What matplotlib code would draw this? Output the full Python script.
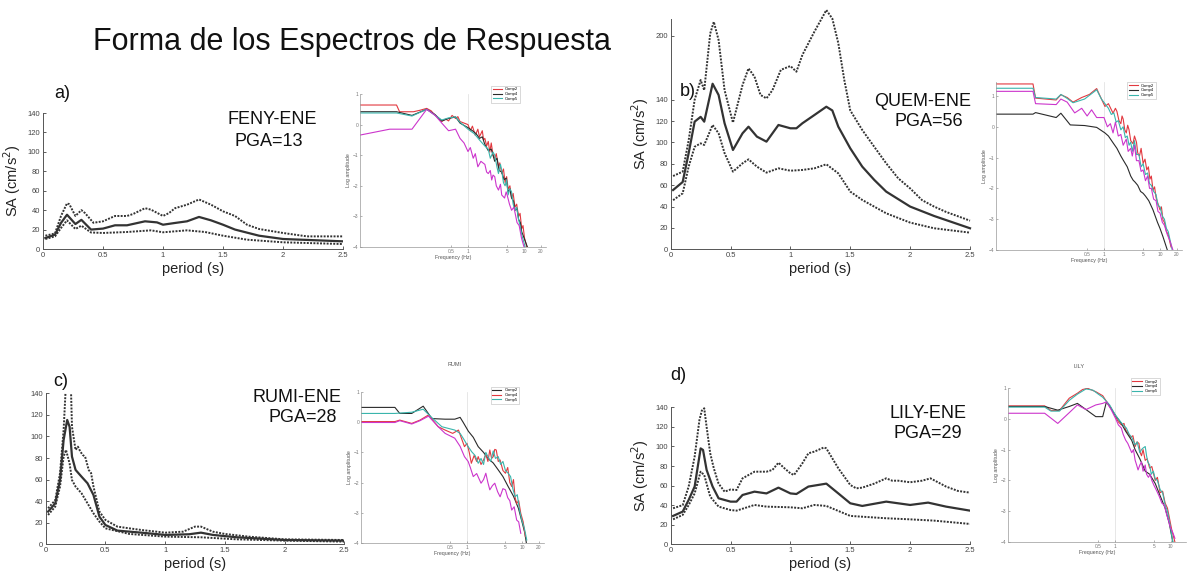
import matplotlib
matplotlib.use("Agg")
import matplotlib.pyplot as plt

plt.rcParams["font.family"] = ["Liberation Sans", "DejaVu Sans"]

W, H = 1187, 571

# ---- response spectra, period (s) vs SA (cm/s^2): mean+std (hi), mean, mean-std (lo)
a_hi_t = [0.02, 0.1, 0.15, 0.2, 0.22, 0.27, 0.32, 0.35, 0.42, 0.5, 0.6, 0.7, 0.75, 0.85, 0.9, 1.0, 1.05, 1.1, 1.2, 1.3, 1.4, 1.5, 1.6, 1.7, 1.8, 2.0, 2.2, 2.5]
a_hi_sa = [13.7, 16, 34, 47, 46, 34, 40, 37, 27, 28.5, 34, 34, 36, 42, 40.5, 34, 37, 42, 45.6, 51, 45.6, 38.8, 34, 25, 20.6, 16.5, 13, 13]
a_mn_t = [0.02, 0.1, 0.15, 0.2, 0.27, 0.32, 0.4, 0.5, 0.6, 0.7, 0.85, 0.95, 1.0, 1.1, 1.2, 1.3, 1.4, 1.5, 1.6, 1.8, 2.0, 2.5]
a_mn_sa = [11.3, 14.8, 26.8, 35.3, 25.7, 30, 20, 21, 24.4, 24.4, 28.5, 27.4, 25, 26.8, 28.5, 33, 29.5, 25, 20, 13.7, 10.3, 7.9]
a_lo_t = [0.02, 0.1, 0.15, 0.2, 0.27, 0.32, 0.4, 0.5, 0.7, 0.9, 1.0, 1.2, 1.35, 1.5, 1.7, 2.0, 2.5]
a_lo_sa = [10.3, 13, 21.6, 29.5, 20.6, 24, 17, 16.5, 17.5, 19.2, 17.2, 19.2, 17.5, 13.7, 9.6, 6.9, 5.1]

b_hi_t = [0.02, 0.1, 0.15, 0.2, 0.25, 0.28, 0.33, 0.36, 0.4, 0.45, 0.52, 0.6, 0.65, 0.7, 0.75, 0.8, 0.85, 0.92, 1.0, 1.05, 1.1, 1.2, 1.3, 1.35, 1.4, 1.45, 1.5, 1.6, 1.7, 1.8, 1.9, 2.0, 2.1, 2.2, 2.3, 2.5]
b_hi_sa = [68.6, 72.7, 102, 140, 158.5, 149, 202, 213, 196, 149, 118.6, 153.8, 169.4, 161.6, 144.5, 141.3, 149, 168, 171.6, 166.3, 182, 203.7, 224, 216, 193, 158.5, 130, 111.7, 96, 80.5, 66.5, 57, 46, 40, 35, 26.8]
b_mn_t = [0.02, 0.1, 0.15, 0.2, 0.25, 0.28, 0.35, 0.4, 0.45, 0.52, 0.6, 0.65, 0.72, 0.8, 0.9, 1.0, 1.05, 1.1, 1.2, 1.3, 1.35, 1.4, 1.5, 1.6, 1.7, 1.8, 2.0, 2.2, 2.5]
b_mn_sa = [55.5, 63, 90, 119.5, 124, 119.5, 155, 144.5, 118, 93, 108.6, 114.8, 105.5, 100.8, 116.4, 113.3, 113.3, 118, 125.7, 133.5, 130, 114.8, 94.5, 77.4, 65, 54, 40, 31.2, 19.7]
b_lo_t = [0.02, 0.1, 0.15, 0.2, 0.25, 0.28, 0.35, 0.4, 0.45, 0.52, 0.6, 0.65, 0.72, 0.8, 0.9, 1.0, 1.1, 1.2, 1.3, 1.4, 1.5, 1.6, 1.8, 2.0, 2.2, 2.5]
b_lo_sa = [46, 52.4, 77.4, 96, 99.2, 97.7, 116.4, 108.6, 90, 72.7, 80.5, 84.2, 77.4, 71.8, 75.8, 73.6, 74.3, 75.8, 79.6, 71.1, 54, 46.2, 33.7, 25, 19.7, 15.6]

c_hi_t = [0.02, 0.08, 0.12, 0.15, 0.17, 0.19, 0.21, 0.22, 0.25, 0.27, 0.29, 0.31, 0.33, 0.36, 0.38, 0.4, 0.45, 0.5, 0.6, 0.7, 0.8, 1.0, 1.15, 1.25, 1.3, 1.4, 1.5, 1.7, 2.0, 2.5]
c_hi_sa = [33.4, 41, 66, 106, 150, 175, 150, 109, 87.5, 90.5, 86, 82.8, 81.3, 69, 66, 53.5, 30.3, 22.6, 16.4, 14.8, 13.3, 10.8, 11.7, 16.4, 16.4, 11.7, 9.6, 7.1, 4.6, 4]
c_mn_t = [0.02, 0.08, 0.12, 0.15, 0.18, 0.2, 0.22, 0.25, 0.3, 0.35, 0.4, 0.45, 0.5, 0.6, 0.8, 1.0, 1.2, 1.3, 1.4, 1.6, 2.0, 2.5]
c_mn_sa = [30.3, 38, 59.6, 96.7, 115.3, 109, 81.3, 69, 62.7, 56.6, 45.7, 25.6, 17.9, 12.7, 10.8, 8.7, 9.3, 10.8, 8.7, 6.5, 4, 3.4]
c_lo_t = [0.02, 0.08, 0.12, 0.15, 0.17, 0.2, 0.22, 0.25, 0.3, 0.35, 0.4, 0.45, 0.5, 0.7, 1.0, 1.3, 1.6, 2.0, 2.5]
c_lo_sa = [27.2, 35, 53.5, 81.3, 87.5, 75, 59.6, 53.5, 47.3, 38, 28.7, 21, 14.8, 9.6, 7.1, 6.5, 4.6, 3.4, 2.5]

d_hi_t = [0.02, 0.1, 0.15, 0.2, 0.24, 0.26, 0.28, 0.3, 0.33, 0.36, 0.4, 0.45, 0.5, 0.55, 0.6, 0.7, 0.8, 0.85, 0.9, 0.95, 1.0, 1.03, 1.1, 1.15, 1.2, 1.28, 1.3, 1.4, 1.5, 1.55, 1.6, 1.7, 1.8, 1.85, 1.9, 2.0, 2.1, 2.17, 2.3, 2.4, 2.5]
d_hi_sa = [36.8, 40, 59, 89.6, 127, 136.6, 139, 120, 93, 77.7, 62, 53.8, 56, 55.5, 67.4, 74.2, 74.2, 76, 83.4, 77.7, 72.5, 70.8, 82.8, 93, 94.7, 99, 98, 77.7, 60.6, 57.2, 57.9, 62, 67.4, 65, 65, 63.4, 65, 67.4, 59, 54.5, 52.8]
d_mn_t = [0.02, 0.1, 0.15, 0.2, 0.25, 0.27, 0.3, 0.35, 0.4, 0.5, 0.55, 0.6, 0.7, 0.8, 0.9, 1.0, 1.05, 1.15, 1.3, 1.4, 1.5, 1.6, 1.8, 2.0, 2.15, 2.3, 2.5]
d_mn_sa = [29, 33.4, 45.3, 59, 98, 96.4, 76, 59, 47, 43.6, 43.6, 50.4, 53.8, 52, 57.9, 52, 51.4, 59, 62, 52, 41.9, 39.2, 43.6, 40.2, 42.6, 38.5, 34.4]
d_lo_t = [0.02, 0.1, 0.15, 0.2, 0.25, 0.28, 0.33, 0.4, 0.5, 0.55, 0.7, 0.8, 1.0, 1.1, 1.2, 1.3, 1.5, 1.8, 2.0, 2.2, 2.5]
d_lo_sa = [25.5, 30, 40, 52, 74.2, 70.8, 48.7, 38.5, 35, 34.4, 40.2, 38.5, 37.8, 36.8, 40.2, 39.2, 29, 26.6, 25.5, 24.2, 20.8]

# ---- Fourier spectra insets: frequency (Hz) vs log10 amplitude
ia_red_f = [0.012, 0.053, 0.06, 0.106, 0.14, 0.183, 0.22, 0.257, 0.3, 0.34, 0.4, 0.45, 0.52, 0.6, 0.66, 0.72, 0.85, 1.0, 1.1, 1.2, 1.35, 1.5, 1.6, 1.7, 1.8, 1.9, 2.0, 2.15, 2.3, 2.45, 2.6, 2.8, 3.0, 3.2, 3.5, 3.7, 4.0, 4.3, 4.6, 4.9, 5.2, 5.6, 6.0, 6.4, 6.9, 7.4, 8.0, 8.5, 9.1, 9.6, 10.2, 11.2]
ia_red_k = [0.64, 0.64, 0.42, 0.42, 0.47, 0.53, 0.45, 0.31, 0.2, 0.1, 0.18, 0.12, 0.3, 0.2, 0.26, 0.1, 0.05, 0.0, -0.2, -0.05, -0.35, -0.15, -0.4, -0.3, -0.2, -0.5, -0.45, -0.7, -0.55, -0.9, -0.6, -1.0, -1.1, -0.95, -1.4, -1.25, -1.6, -1.45, -1.9, -1.7, -2.1, -2.0, -2.4, -2.25, -2.7, -2.6, -3.0, -2.9, -3.4, -3.3, -3.7, -4.0]
ia_blk_f = [0.012, 0.053, 0.1, 0.183, 0.257, 0.34, 0.45, 0.6, 0.72, 1.0, 1.2, 1.4, 1.6, 1.8, 2.0, 2.3, 2.6, 3.0, 3.3, 3.6, 4.0, 4.4, 4.8, 5.2, 5.6, 6.0, 6.5, 6.9, 7.5, 8.0, 8.6, 9.1, 10, 11.5]
ia_blk_k = [0.42, 0.42, 0.3, 0.5, 0.33, 0.12, 0.2, 0.25, 0.05, -0.1, -0.2, -0.3, -0.45, -0.4, -0.65, -0.85, -0.8, -1.2, -1.1, -1.5, -1.55, -1.8, -1.75, -2.2, -2.1, -2.4, -2.5, -2.8, -2.75, -3.1, -3.2, -3.5, -3.7, -4.0]
ia_tea_f = [0.012, 0.053, 0.1, 0.183, 0.26, 0.34, 0.45, 0.6, 0.72, 1.0, 1.3, 1.6, 2.0, 2.3, 2.5, 2.8, 3.0, 3.3, 3.5, 3.8, 4.0, 4.3, 4.6, 4.9, 5.2, 5.6, 6.0, 6.4, 6.9, 7.4, 8.0, 8.5, 9.1, 10.5]
ia_tea_k = [0.38, 0.38, 0.28, 0.5, 0.3, 0.15, 0.22, 0.25, 0.08, -0.15, -0.3, -0.5, -0.7, -0.8, -1.1, -0.9, -1.0, -1.4, -1.6, -1.3, -1.5, -1.9, -2.0, -1.8, -2.3, -2.1, -2.2, -2.6, -2.8, -2.7, -3.1, -3.3, -3.6, -4.0]
ia_mag_f = [0.012, 0.04, 0.1, 0.183, 0.26, 0.34, 0.45, 0.6, 0.72, 0.85, 1.0, 1.1, 1.24, 1.35, 1.5, 1.7, 2.0, 2.15, 2.3, 2.5, 2.65, 2.8, 3.0, 3.2, 3.5, 3.8, 4.0, 4.5, 4.8, 5.0, 5.5, 6.0, 6.6, 7.5, 8.2, 9.0, 10.0]
ia_mag_k = [-0.34, -0.15, -0.15, 0.5, 0.3, 0.05, -0.2, -0.15, -0.45, -0.6, -0.88, -0.75, -1.1, -0.95, -1.38, -1.2, -1.3, -1.55, -1.6, -1.5, -1.81, -1.65, -1.7, -2.0, -2.14, -1.95, -2.3, -2.4, -2.2, -2.3, -2.6, -2.8, -2.7, -3.2, -3.3, -3.7, -4.0]

ib_red_f = [0.012, 0.054, 0.06, 0.14, 0.17, 0.22, 0.28, 0.4, 0.55, 0.74, 0.85, 1.04, 1.2, 1.45, 1.6, 1.7, 1.85, 2.0, 2.1, 2.2, 2.35, 2.5, 2.65, 2.8, 3.0, 3.3, 3.5, 3.8, 4.0, 4.3, 4.6, 5.0, 5.4, 5.8, 6.2, 6.6, 7.0, 7.5, 8.0, 8.5, 9.2, 10, 10.6, 11.3, 12, 13, 14, 15.7]
ib_red_k = [1.39, 1.39, 0.93, 0.87, 1.04, 0.95, 0.8, 0.95, 1.05, 1.24, 1.0, 0.66, 0.75, 0.44, 0.6, 0.5, 0.2, 0.1, 0.35, 0.25, -0.1, -0.2, 0.05, -0.1, -0.45, -0.55, -0.3, -0.5, -0.85, -0.95, -0.7, -1.19, -1.05, -1.4, -1.3, -1.7, -1.6, -2.06, -1.95, -2.3, -2.5, -2.7, -2.6, -3.03, -3.1, -3.4, -3.5, -3.9]
ib_blk_f = [0.012, 0.054, 0.06, 0.14, 0.17, 0.25, 0.45, 0.74, 1.04, 1.2, 1.45, 1.7, 2.0, 2.2, 2.6, 3.0, 3.3, 3.6, 4.0, 4.5, 5.0, 5.5, 6.3, 7.5, 9.0, 10, 11.3, 13.5]
ib_blk_k = [0.41, 0.41, 0.46, 0.3, 0.44, 0.06, 0.04, -0.02, -0.2, -0.3, -0.52, -0.7, -0.95, -1.08, -1.3, -1.6, -1.73, -1.8, -1.9, -2.1, -2.16, -2.25, -2.4, -2.7, -3.1, -3.3, -3.57, -4.0]
ib_tea_f = [0.012, 0.054, 0.06, 0.14, 0.17, 0.22, 0.28, 0.45, 0.74, 0.9, 1.2, 1.35, 1.5, 1.65, 1.8, 2.0, 2.2, 2.4, 2.6, 2.8, 3.0, 3.2, 3.5, 3.8, 4.2, 4.6, 5.0, 5.5, 6.0, 6.5, 7.0, 7.7, 8.5, 9.2, 10, 11, 12, 13, 14, 16.5]
ib_tea_k = [1.25, 1.25, 0.95, 0.9, 1.05, 0.92, 0.78, 0.9, 1.2, 0.9, 0.6, 0.4, 0.45, 0.15, 0.2, -0.1, 0.0, -0.35, -0.3, -0.6, -0.5, -0.8, -0.45, -0.9, -0.9, -1.3, -1.2, -1.55, -1.5, -1.85, -1.9, -2.1, -2.2, -2.55, -2.6, -2.9, -3.0, -3.3, -3.4, -4.0]
ib_mag_f = [0.012, 0.054, 0.06, 0.14, 0.17, 0.22, 0.3, 0.4, 0.5, 0.6, 0.74, 1.0, 1.15, 1.3, 1.45, 1.6, 1.8, 2.0, 2.2, 2.5, 2.7, 3.0, 3.2, 3.5, 3.8, 4.2, 4.6, 5.0, 5.5, 6.0, 6.5, 7.0, 7.7, 8.5, 9.2, 10, 11, 12, 13.5, 15, 17]
ib_mag_k = [1.15, 1.15, 0.75, 0.72, 0.9, 0.8, 0.45, 0.6, 0.35, 0.55, 0.3, 0.3, 0.0, 0.1, -0.2, 0.15, -0.3, -0.25, -0.6, -0.4, -0.8, -0.7, -0.95, -0.6, -1.1, -1.1, -1.45, -1.4, -1.75, -1.6, -2.0, -2.0, -2.35, -2.4, -2.75, -2.8, -3.1, -3.2, -3.5, -3.7, -4.0]

ic_blk_f = [0.012, 0.049, 0.06, 0.099, 0.16, 0.23, 0.4, 0.6, 0.75, 0.85, 1.06, 1.3, 1.6, 2.0, 2.4, 3.0, 3.7, 4.5, 5.6, 7.0, 8.6, 10, 11.3, 12]
ic_blk_k = [0.49, 0.49, 0.29, 0.29, 0.53, 0.12, 0.1, 0.1, 0.16, 0.0, -0.3, -0.5, -0.81, -1.0, -1.2, -1.35, -1.58, -1.8, -2.13, -2.45, -2.85, -3.3, -3.68, -4.0]
ic_red_f = [0.012, 0.049, 0.06, 0.099, 0.14, 0.2, 0.3, 0.4, 0.55, 0.7, 0.8, 0.9, 1.0, 1.1, 1.2, 1.35, 1.5, 1.6, 1.8, 2.0, 2.2, 2.4, 2.6, 2.8, 3.0, 3.2, 3.4, 3.7, 4.0, 4.5, 5.0, 5.5, 6.0, 6.5, 7.0, 7.5, 8.0, 8.7, 9.5, 10.5, 11.5]
ic_red_k = [0.02, 0.02, 0.07, -0.04, 0.07, 0.24, -0.15, -0.26, -0.37, -0.26, -0.55, -0.81, -0.7, -1.0, -1.36, -1.1, -1.3, -1.14, -1.4, -1.25, -1.05, -1.3, -0.92, -1.2, -1.14, -0.9, -0.92, -1.3, -1.25, -1.6, -1.69, -1.5, -2.0, -2.13, -1.9, -2.5, -2.69, -2.6, -3.02, -3.3, -3.79]
ic_tea_f = [0.012, 0.049, 0.099, 0.16, 0.23, 0.35, 0.6, 0.75, 0.9, 1.0, 1.22, 1.4, 1.6, 1.8, 2.0, 2.2, 2.4, 2.7, 3.0, 3.3, 3.7, 4.1, 4.5, 5.0, 5.6, 6.2, 6.8, 7.5, 8.2, 9.0, 9.9, 11, 12.2]
ic_tea_k = [0.29, 0.29, 0.33, 0.43, 0.15, -0.15, -0.26, -0.37, -0.6, -0.75, -0.98, -1.1, -1.36, -1.2, -1.4, -1.0, -1.14, -1.3, -0.95, -1.2, -1.14, -1.4, -1.3, -1.6, -1.69, -1.8, -2.2, -2.47, -2.4, -2.9, -3.24, -3.5, -3.9]
ic_mag_f = [0.012, 0.049, 0.06, 0.099, 0.14, 0.2, 0.3, 0.4, 0.6, 0.75, 0.9, 1.05, 1.15, 1.3, 1.5, 1.8, 2.0, 2.2, 2.4, 2.6, 2.9, 3.2, 3.6, 4.0, 4.5, 5.0, 5.5, 6.0, 6.5, 7.2, 8.0, 8.7, 9.5]
ic_mag_k = [-0.01, -0.01, 0.05, -0.06, 0.05, 0.2, -0.15, -0.37, -0.53, -0.8, -1.14, -1.3, -1.5, -1.8, -1.7, -2.02, -1.9, -1.69, -2.0, -2.24, -2.1, -2.02, -2.3, -2.47, -2.2, -2.24, -2.5, -2.6, -2.91, -2.8, -3.24, -3.3, -3.68]

id_red_f = [0.012, 0.054, 0.07, 0.1, 0.15, 0.21, 0.26, 0.32, 0.45, 0.6, 0.68, 0.85, 1.03, 1.15, 1.3, 1.45, 1.55, 1.7, 1.9, 2.1, 2.3, 2.5, 2.7, 2.85, 3.0, 3.2, 3.5, 3.8, 4.2, 4.6, 5.3, 5.8, 6.5, 7.2, 8.0, 8.8, 9.5, 10.5, 12]
id_red_k = [0.42, 0.42, 0.27, 0.27, 0.67, 0.83, 0.95, 0.99, 0.88, 0.75, 0.6, 0.35, 0.05, -0.1, -0.2, -0.15, -0.36, -0.45, -0.6, -0.55, -0.9, -0.75, -0.8, -1.1, -1.2, -1.0, -1.35, -1.3, -1.6, -1.55, -2.0, -1.9, -2.4, -2.35, -2.74, -2.9, -3.2, -3.6, -4.0]
id_blk_f = [0.012, 0.054, 0.093, 0.15, 0.21, 0.3, 0.45, 0.6, 0.7, 0.8, 1.03, 1.3, 1.55, 2.0, 2.3, 2.8, 3.5, 4.2, 5.3, 6.5, 8.0, 9.5, 11]
id_blk_k = [0.4, 0.4, 0.28, 0.4, 0.5, 0.3, 0.07, 0.07, 0.55, 0.4, 0.1, -0.15, -0.4, -0.7, -1.0, -1.3, -1.7, -1.8, -2.1, -2.5, -2.9, -3.4, -4.0]
id_tea_f = [0.012, 0.054, 0.07, 0.1, 0.15, 0.21, 0.3, 0.4, 0.5, 0.6, 0.8, 1.03, 1.2, 1.4, 1.6, 1.8, 2.0, 2.3, 2.5, 2.8, 3.0, 3.2, 3.5, 3.7, 3.9, 4.2, 4.5, 4.9, 5.3, 5.8, 6.5, 7.2, 8, 8.8, 9.5, 11]
id_tea_k = [0.38, 0.38, 0.25, 0.25, 0.6, 0.8, 0.97, 0.93, 0.8, 0.7, 0.45, 0.1, -0.05, -0.2, -0.3, -0.5, -0.6, -0.85, -0.75, -1.1, -1.0, -0.95, -0.9, -1.2, -1.4, -1.5, -1.8, -1.7, -1.95, -2.0, -2.3, -2.4, -2.8, -3.0, -3.3, -4.0]
id_mag_f = [0.012, 0.054, 0.093, 0.15, 0.21, 0.3, 0.45, 0.6, 0.7, 0.85, 1.03, 1.15, 1.3, 1.4, 1.55, 1.7, 2.0, 2.15, 2.3, 2.45, 2.6, 2.8, 3.0, 3.2, 3.5, 3.7, 4.0, 4.3, 4.6, 5.0, 5.5, 6.2, 7.0, 7.7, 8.5, 9.2, 9.8, 11, 12]
id_mag_k = [0.18, 0.18, -0.15, 0.2, 0.45, 0.3, 0.45, 0.5, 0.55, 0.3, 0.0, -0.2, -0.3, -0.5, -0.69, -0.8, -1.1, -1.0, -1.34, -1.5, -1.66, -1.5, -1.4, -1.7, -1.5, -1.8, -1.9, -1.8, -2.0, -2.15, -2.3, -2.5, -2.74, -2.8, -3.1, -3.3, -3.5, -3.7, -3.88]

comp_labels = ["Comp2", "Comp4", "Comp5"]
RED, BLK, TEAL, MAG = "#e2383f", "#2a2a2a", "#3ab5ac", "#cc35cc"
INK = "#333333"


def px_axes(fig, left, top, right, bottom):
    return fig.add_axes([left / W, 1 - bottom / H, (right - left) / W, (bottom - top) / H])


def ftext(fig, x, y, s, **kw):
    fig.text(x / W, 1 - y / H, s, ha="center", va="center", **kw)


def spectrum(ax, hi, mean, lo, ylim, yticks, ylabel=True, clip=True):
    ax.plot(*hi, color=INK, lw=1.4, ls=(0, (1, 0.7)), clip_on=clip)
    ax.plot(*mean, color=INK, lw=1.6, clip_on=clip)
    ax.plot(*lo, color=INK, lw=1.4, ls=(0, (1, 0.7)), clip_on=clip)
    ax.set_xlim(0, 2.5)
    ax.set_ylim(*ylim)
    ax.set_xticks([0, 0.5, 1, 1.5, 2, 2.5], ["0", "0.5", "1", "1.5", "2", "2.5"])
    ax.set_yticks(yticks)
    for s in ("top", "right"):
        ax.spines[s].set_visible(False)
    for s in ("left", "bottom"):
        ax.spines[s].set_color("#555555")
        ax.spines[s].set_linewidth(0.7)
    ax.tick_params(direction="in", length=2, width=0.6, labelsize=5.5, colors="#444444", pad=2)
    ax.set_xlabel("period (s)", fontsize=10.5, color="#222222", labelpad=2)
    if ylabel:
        ax.set_ylabel("SA (cm/s$^2$)", fontsize=10.5, color="#222222", labelpad=3)


def inset(ax, lines, xmax, ylim, leg_xy, xt, title=None, title_xy=None):
    hs = []
    for f, k, c in lines:
        hs += ax.plot(f, k, color=c, lw=0.8)
    ax.axvline(1, color="#dddddd", lw=0.5, zorder=0)
    ax.set_xscale("log")
    ax.set_xlim(0.012, xmax)
    ax.set_ylim(*ylim)
    ax.set_xticks(xt, [f"{v:g}" for v in xt])
    ax.set_xticks([], minor=True)
    ax.set_yticks([-4, -3, -2, -1, 0, 1])
    for s in ("top", "right"):
        ax.spines[s].set_visible(False)
    for s in ("left", "bottom"):
        ax.spines[s].set_color("#999999")
        ax.spines[s].set_linewidth(0.5)
    ax.tick_params(direction="in", length=1.5, width=0.4, labelsize=3.5, colors="#777777", pad=1.5)
    ax.set_xlabel("Frequency (Hz)", fontsize=3.8, color="#555555", labelpad=1)
    ax.set_ylabel("Log amplitude", fontsize=3.8, color="#555555", labelpad=1)
    leg = ax.legend(hs[:3], comp_labels, loc="center", bbox_to_anchor=leg_xy, fontsize=3,
                    handlelength=2.2, borderpad=0.4, labelspacing=0.2, frameon=True, fancybox=False)
    leg.get_frame().set_linewidth(0.4)
    leg.get_frame().set_edgecolor("#aaaaaa")
    if title:
        ax.text(*title_xy, title, transform=ax.transAxes, fontsize=4, color="#555555", ha="center")


fig = plt.figure(figsize=(W / 100, H / 100), dpi=100)

yt140 = [0, 20, 40, 60, 80, 100, 120, 140]
xt_full = [0.5, 1, 5, 10, 20]

ax = px_axes(fig, 43, 113, 343, 249)
spectrum(ax, (a_hi_t, a_hi_sa), (a_mn_t, a_mn_sa), (a_lo_t, a_lo_sa), (0, 140), yt140)
ax = px_axes(fig, 670.7, 18.6, 970, 249.3)
spectrum(ax, (b_hi_t, b_hi_sa), (b_mn_t, b_mn_sa), (b_lo_t, b_lo_sa), (0, 216), yt140 + [200], clip=False)
ax = px_axes(fig, 45.7, 393.3, 344.3, 544.3)
spectrum(ax, (c_hi_t, c_hi_sa), (c_mn_t, c_mn_sa), (c_lo_t, c_lo_sa), (0, 140), yt140, ylabel=False)
ax = px_axes(fig, 670.7, 407.3, 970, 544.3)
spectrum(ax, (d_hi_t, d_hi_sa), (d_mn_t, d_mn_sa), (d_lo_t, d_lo_sa), (0, 140), yt140)

ax = px_axes(fig, 360.4, 94, 546.3, 247)
inset(ax, [(ia_red_f, ia_red_k, RED), (ia_blk_f, ia_blk_k, BLK), (ia_tea_f, ia_tea_k, TEAL),
           (ia_mag_f, ia_mag_k, MAG)], 25, (-4, 1), (0.78, 1.0), xt_full)
ax = px_axes(fig, 996.4, 82.1, 1182.3, 250)
inset(ax, [(ib_red_f, ib_red_k, RED), (ib_blk_f, ib_blk_k, BLK), (ib_tea_f, ib_tea_k, TEAL),
           (ib_mag_f, ib_mag_k, MAG)], 25, (-4, 1.45), (0.78, 0.95), xt_full)
ax = px_axes(fig, 361.3, 392, 543.9, 543)
inset(ax, [(ic_blk_f, ic_blk_k, BLK), (ic_red_f, ic_red_k, RED), (ic_tea_f, ic_tea_k, TEAL),
           (ic_mag_f, ic_mag_k, MAG)], 25, (-4, 1), (0.787, 0.98), xt_full, "RUMI", (0.51, 1.17))
ax = px_axes(fig, 1008.4, 388, 1186, 542)
inset(ax, [(id_red_f, id_red_k, RED), (id_blk_f, id_blk_k, BLK), (id_tea_f, id_tea_k, TEAL),
           (id_mag_f, id_mag_k, MAG)], 19, (-4, 1), (0.77, 1.01), xt_full[:-1], "LILY", (0.40, 1.13))

ftext(fig, 352, 42, "Forma de los Espectros de Respuesta", fontsize=22, color="#111111")
ftext(fig, 62, 94, "a)", fontsize=13, color="#111111")
ftext(fig, 272, 120, "FENY-ENE", fontsize=13, color="#111111")
ftext(fig, 269, 141, "PGA=13", fontsize=13, color="#111111")
ftext(fig, 688, 91, "b)", fontsize=13, color="#111111")
ftext(fig, 923, 102, "QUEM-ENE", fontsize=13, color="#111111")
ftext(fig, 929, 122, "PGA=56", fontsize=13, color="#111111")
ftext(fig, 61, 381, "c)", fontsize=13, color="#111111")
ftext(fig, 297, 397, "RUMI-ENE", fontsize=13, color="#111111")
ftext(fig, 303, 418, "PGA=28", fontsize=13, color="#111111")
ftext(fig, 678, 376, "d)", fontsize=13, color="#111111")
ftext(fig, 928, 414, "LILY-ENE", fontsize=13, color="#111111")
ftext(fig, 928, 433, "PGA=29", fontsize=13, color="#111111")

fig.savefig("out.png", dpi=100)
